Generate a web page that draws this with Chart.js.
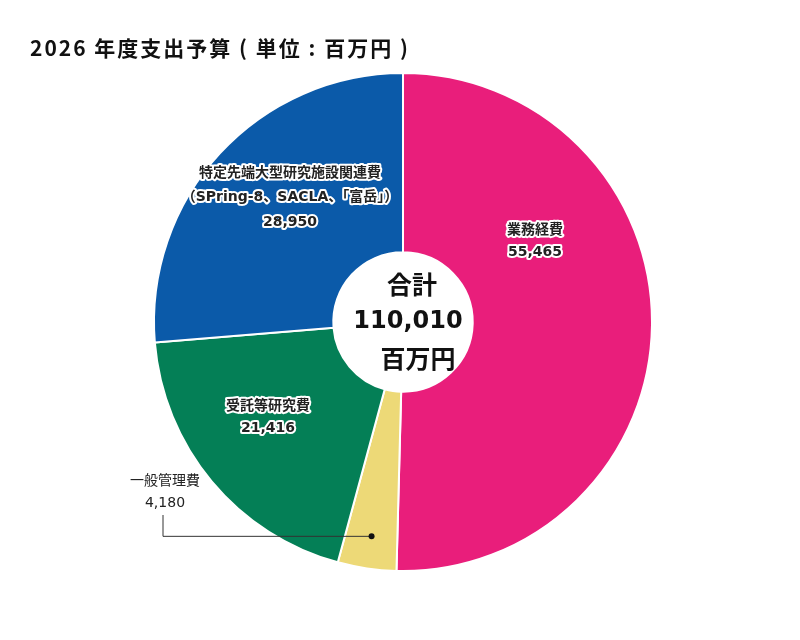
<!DOCTYPE html>
<html>
<head>
<meta charset="utf-8">
<script src="https://cdn.jsdelivr.net/npm/chart.js@4"></script>
<style>
  html, body { margin: 0; padding: 0; background: #fff; }
  #wrap { width: 800px; height: 640px; position: relative; }
</style>
</head>
<body>
<div id="wrap"><canvas id="budget"></canvas></div>
<script>
// 2026 年度支出予算 — doughnut with center total

const TITLE = '2026 年度支出予算 ( 単位 : 百万円 )';
const categories = ['業務経費', '一般管理費', '受託等研究費', '特定先端大型研究施設関連費'];
const subLabels = ['', '', '', '（SPring-8、SACLA、「富岳」）'];
const values = [55465, 4180, 21416, 28950];
const colors = ['#E91E7B', '#EDD977', '#047F56', '#0B5AA9'];
const centerLines = ['合計', '110,010', '百万円'];

const CJK = '"Noto Sans CJK JP", sans-serif';
const MIXED = '"DejaVu Sans", "Noto Sans CJK JP", sans-serif';

function fmt(n) {
  return n.toLocaleString('en-US');
}

function haloText(ctx, text, x, y) {
  ctx.lineWidth = 4;
  ctx.lineJoin = 'round';
  ctx.strokeStyle = '#fff';
  ctx.strokeText(text, x, y);
  ctx.fillStyle = '#222';
  ctx.fillText(text, x, y);
}

// label placement, offsets from the doughnut centre
const labelSpots = [
  { dx: 132, dy: -92, halo: true },
  { dx: -238, dy: 159, halo: false },
  { dx: -135, dy: 84, halo: true },
  { dx: -113, dy: -149, halo: true },
];

const labelsPlugin = {
  id: 'labels',
  afterDraw(chart) {
    const ctx = chart.ctx;
    const arc0 = chart.getDatasetMeta(0).data[0];
    const cx = arc0.x, cy = arc0.y;

    ctx.save();
    ctx.textAlign = 'left';
    ctx.textBaseline = 'middle';
    ctx.fillStyle = '#111';
    ctx.font = 'bold 21px ' + CJK;
    ctx.letterSpacing = '2px';
    ctx.fillText(TITLE, 30, 48);
    ctx.letterSpacing = '0px';

    ctx.textAlign = 'center';
    categories.forEach((name, i) => {
      const s = labelSpots[i];
      const x = cx + s.dx;
      let y = cy + s.dy;
      const lines = [name];
      if (subLabels[i]) lines.push(subLabels[i]);
      lines.push(fmt(values[i]));
      lines.forEach(line => {
        if (s.halo) {
          ctx.font = 'bold 14px ' + MIXED;
          haloText(ctx, line, x, y);
        } else {
          ctx.font = '14px ' + MIXED;
          ctx.fillStyle = '#222';
          ctx.fillText(line, x, y);
        }
        y += i === 3 ? 24.5 : 22.5;
      });
    });

    // leader line for the small slice
    const small = chart.getDatasetMeta(0).data[1];
    const mid = (small.startAngle + small.endAngle) / 2;
    const r = small.outerRadius * 0.87;
    const px = cx + Math.cos(mid) * r;
    const py = cy + Math.sin(mid) * r;
    ctx.strokeStyle = '#333';
    ctx.lineWidth = 1;
    ctx.beginPath();
    ctx.moveTo(cx - 240, cy + 193);
    ctx.lineTo(cx - 240, py);
    ctx.lineTo(px, py);
    ctx.stroke();
    ctx.fillStyle = '#111';
    ctx.beginPath();
    ctx.arc(px, py, 3, 0, Math.PI * 2);
    ctx.fill();

    // centre total
    ctx.fillStyle = '#111';
    ctx.font = 'bold 25px ' + CJK;
    ctx.fillText(centerLines[0], cx + 9, cy - 38);
    ctx.font = 'bold 24px ' + MIXED;
    ctx.fillText(centerLines[1], cx + 5, cy);
    ctx.font = 'bold 25px ' + CJK;
    ctx.fillText(centerLines[2], cx + 15, cy + 36);
    ctx.restore();
  }
};

const ctx = document.getElementById('budget').getContext('2d');
new Chart(ctx, {
  type: 'doughnut',
  data: {
    labels: categories,
    datasets: [{
      data: values,
      backgroundColor: colors,
      borderColor: '#ffffff',
      borderWidth: 2,
    }]
  },
  options: {
    responsive: true,
    maintainAspectRatio: false,
    animation: false,
    cutout: '28%',
    layout: { padding: { left: 153, right: 147, top: 72, bottom: 68 } },
    plugins: {
      legend: { display: false },
      tooltip: { enabled: false },
    }
  },
  plugins: [labelsPlugin]
});
</script>
</body>
</html>
